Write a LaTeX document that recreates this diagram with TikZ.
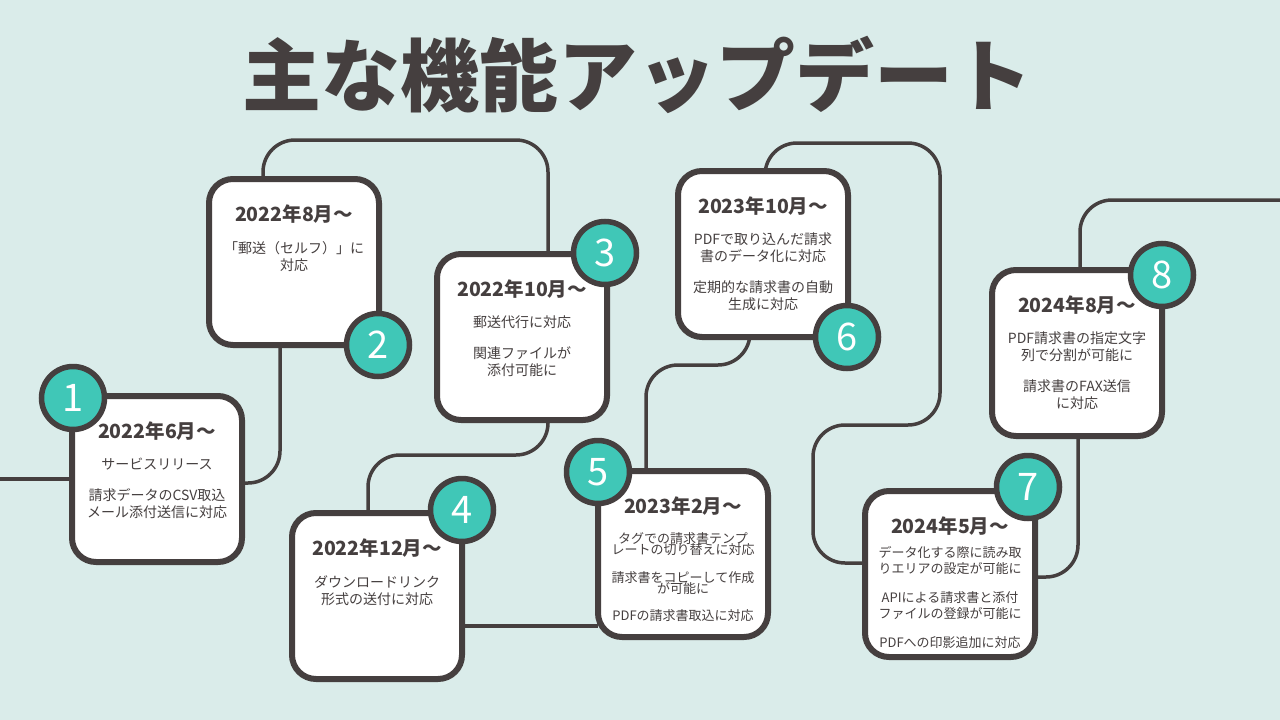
\documentclass[tikz,border=0pt]{standalone}
\usepackage{fontspec}
\setmainfont{Noto Sans CJK JP}
\definecolor{bgteal}{RGB}{218,236,234}
\definecolor{badgeteal}{RGB}{64,199,183}
\definecolor{ink}{RGB}{69,63,63}
\usetikzlibrary{backgrounds}

\begin{document}
\setlength{\lineskiplimit}{-20pt}
\begin{tikzpicture}[x=1pt,y=-1pt,
  card/.style={draw=ink,line width=6pt,fill=white,rounded corners=24pt,
    minimum width=170pt,minimum height=166pt,outer sep=0pt},
  badge/.style={circle,draw=ink,line width=5.5pt,fill=badgeteal,minimum size=63pt,
    inner sep=0pt,text=white,font=\fontsize{38}{38}\selectfont},
  head/.style={text=ink,inner sep=0pt,font=\fontsize{19.5}{20}\selectfont\bfseries},
  body/.style={text=ink,anchor=north,align=center,inner sep=0pt,
    font=\fontsize{14}{17}\selectfont},
  small/.style={font=\fontsize{13}{11}\selectfont},
  link/.style={draw=ink,line width=3.5pt,rounded corners=32pt}
]
  \path[use as bounding box] (0,0) rectangle (1280,720);

  % Title
  \node[text=ink,font=\fontsize{79}{79}\selectfont\bfseries] (title) at (637,75) {主な機能アップデート};

  % Cards
  \node[card] (c1) at (157,479) {};
  \node[card] (c2) at (294,262) {};
  \node[card] (c3) at (522,337) {};
  \node[card] (c4) at (377,596) {};
  \node[card] (c5) at (683,554) {};
  \node[card] (c6) at (763,254) {};
  \node[card] (c7) at (950,574) {};
  \node[card] (c8) at (1077,353) {};

  % Timeline path
  \coordinate (entry) at (0,479);
  \coordinate (exit) at (1280,200);
  \begin{scope}[on background layer]
    \fill[bgteal] (0,0) rectangle (1280,720);
    \path[link] (entry) -- (c1.west);
    \path[link] ([yshift=-4pt]c1.east) -| ([xshift=-14pt]c2.south);
    \path[link] ([xshift=-31pt]c2.north) |- (548,140) -- ([xshift=26pt]c3.north);
    \path[link] ([xshift=26pt]c3.south) |- (368,455) -- ([xshift=-9pt]c4.north);
    \path[link] ([yshift=-30pt]c4.east) -- ([yshift=-72pt]c5.west);
    \path[link] ([xshift=-37pt]c5.north) |- (750,365) -- ([xshift=-13pt]c6.south);
    \path[link] ([xshift=2pt]c6.north) |- (940,143) |- (813,425) |- ([yshift=11pt]c7.west);
    \path[link] ([yshift=-3pt]c7.east) -| ([xshift=1pt]c8.south);
    \path[link] ([xshift=3pt]c8.north) |- (exit);
  \end{scope}

  % Card texts
  \node[head] (h1) at ([yshift=-35pt]c1.north) {2022年6月〜};
  \node[body] (b1) at ([yshift=-62pt]c1.north) {サービスリリース\\[14pt]請求データのCSV取込\\メール添付送信に対応};
  \node[head] (h2) at ([yshift=-35pt]c2.north) {2022年8月〜};
  \node[body] (b2) at ([yshift=-62pt]c2.north) {「郵送（セルフ）」に\\対応};
  \node[head] (h3) at ([yshift=-35pt]c3.north) {2022年10月〜};
  \node[body] (b3) at ([yshift=-62pt]c3.north) {郵送代行に対応\\[14pt]関連ファイルが\\添付可能に};
  \node[head] (h4) at ([yshift=-35pt]c4.north) {2022年12月〜};
  \node[body] (b4) at ([yshift=-62pt]c4.north) {ダウンロードリンク\\形式の送付に対応};
  \node[head] (h5) at ([yshift=-35pt]c5.north) {2023年2月〜};
  \node[body,small] (b5) at ([yshift=-61pt]c5.north) {タグでの請求書テンプ\\レートの切り替えに対応\\[17pt]請求書をコピーして作成\\が可能に\\[16pt]PDFの請求書取込に対応};
  \node[head] (h6) at ([yshift=-35pt]c6.north) {2023年10月〜};
  \node[body] (b6) at ([yshift=-62pt]c6.north) {PDFで取り込んだ請求\\書のデータ化に対応\\[14pt]定期的な請求書の自動\\生成に対応};
  \node[head] (h7) at ([yshift=-35pt]c7.north) {2024年5月〜};
  \node[body,font=\fontsize{13}{16}\selectfont] (b7) at ([yshift=-55pt]c7.north) {データ化する際に読み取\\りエリアの設定が可能に\\[13pt]APIによる請求書と添付\\ファイルの登録が可能に\\[13pt]PDFへの印影追加に対応};
  \node[head] (h8) at ([yshift=-35pt]c8.north) {2024年8月〜};
  \node[body] (b8) at ([yshift=-62pt]c8.north) {PDF請求書の指定文字\\列で分割が可能に\\[14pt]請求書のFAX送信\\に対応};

  % Badges
  \node[badge] (n1) at (73,398) {1};
  \node[badge] (n2) at (378,345) {2};
  \node[badge] (n3) at (605,253) {3};
  \node[badge] (n4) at (462,510) {4};
  \node[badge] (n5) at (598,472) {5};
  \node[badge] (n6) at (847,337) {6};
  \node[badge] (n7) at (1028,487) {7};
  \node[badge] (n8) at (1162,275) {8};
\end{tikzpicture}
\end{document}
